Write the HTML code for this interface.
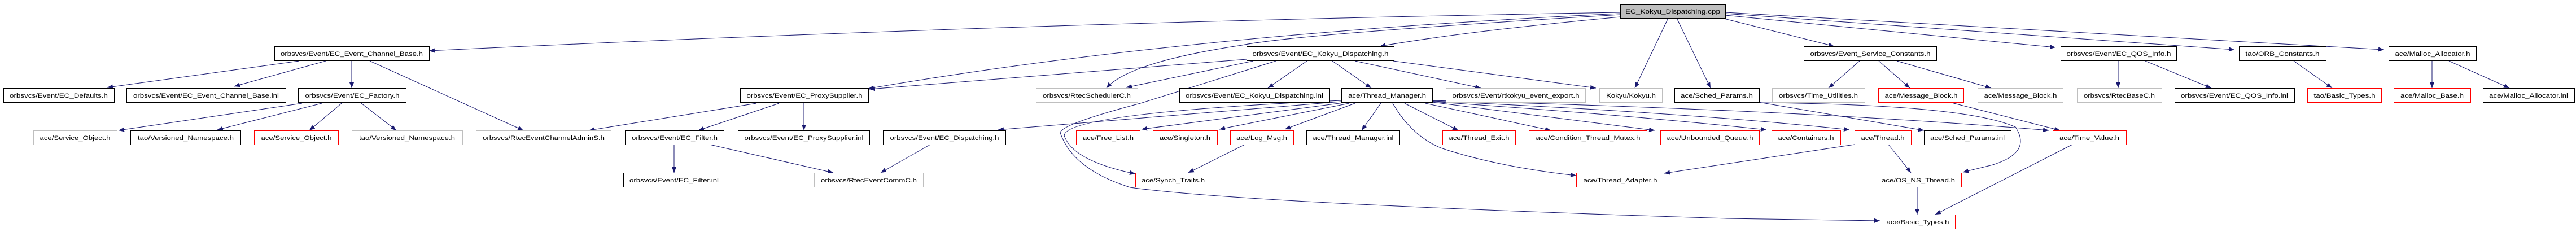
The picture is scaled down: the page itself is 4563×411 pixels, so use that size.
<!DOCTYPE html>
<html><head><meta charset="utf-8"><style>
html,body{margin:0;padding:0;background:#fff;}
svg{display:block;}
text{font-family:"Liberation Sans",sans-serif;font-size:11px;fill:#000;}
.e{fill:none;stroke:#191970;stroke-width:1;}
.b{fill:#fff;stroke:#000;stroke-width:1;}
.r{fill:#fff;stroke:#ff0000;stroke-width:1;}
.g{fill:#fff;stroke:#bfbfbf;stroke-width:1;}
</style></head><body>
<svg width="4563" height="411" viewBox="0 0 4563 411" xmlns="http://www.w3.org/2000/svg">
<defs><marker id="a" markerUnits="userSpaceOnUse" markerWidth="11" markerHeight="8" refX="10" refY="4" orient="auto"><path d="M0,0 L10,4 L0,8 z" fill="#191970"/></marker></defs>
<g marker-end="url(#a)">
<!-- root edges -->
<path class="e" d="M2870,30 Q2600,55 2444,82"/>
<path class="e" d="M2870,22 Q1800,40 760,90"/>
<path class="e" d="M2870,24 Q2100,60 1538,157"/>
<path class="e" d="M2870,26 Q2300,60 2200,80 Q2000,110 1960,156"/>
<path class="e" d="M2955,32 L2896,156"/>
<path class="e" d="M2970,32 L3030,156"/>
<path class="e" d="M3050,32 L3249,82"/>
<path class="e" d="M3056,27 L3641,84"/>
<path class="e" d="M3056,24 L3958,88"/>
<path class="e" d="M3056,22 L4223,88"/>
<!-- KD.h -->
<path class="e" d="M2208,105 L1540,158"/>
<path class="e" d="M2220,108 L1995,155"/>
<path class="e" d="M2315,108 L2246,156"/>
<path class="e" d="M2360,108 L2429,156"/>
<path class="e" d="M2400,108 L2623,156"/>
<path class="e" d="M2468,108 L2827,156"/>
<path class="e" d="M2260,108 Q2060,170 2020,183 Q1880,220 1878,235 Q1900,300 2002,332 Q2200,360 3059,387 L3330,391"/>
<!-- EC_Event_Channel_Base.h -->
<path class="e" d="M530,108 L190,155"/>
<path class="e" d="M577,108 L415,153"/>
<path class="e" d="M623,108 L623,156"/>
<path class="e" d="M655,108 L927,231"/>
<!-- Factory -->
<path class="e" d="M535,183 L210,231"/>
<path class="e" d="M570,183 L385,230"/>
<path class="e" d="M605,183 L548,231"/>
<path class="e" d="M640,183 L702,231"/>
<!-- ProxySupplier -->
<path class="e" d="M1340,183 L1043,231"/>
<path class="e" d="M1380,183 L1237,231"/>
<path class="e" d="M1424,183 L1424,231"/>
<!-- EC_Filter -->
<path class="e" d="M1194,256 L1194,306"/>
<path class="e" d="M1257,256 L1476,306"/>
<!-- Dispatching -->
<path class="e" d="M1648,256 L1560,306"/>
<!-- Thread_Manager -->
<path class="e" d="M2376,180 L1768,230"/>
<path class="e" d="M2380,182 L2022,229"/>
<path class="e" d="M2390,183 L2160,229"/>
<path class="e" d="M2400,183 L2276,229"/>
<path class="e" d="M2446,183 L2412,231"/>
<path class="e" d="M2488,183 L2583,231"/>
<path class="e" d="M2525,183 L2747,231"/>
<path class="e" d="M2537,181 L2931,231"/>
<path class="e" d="M2537,180 Q2900,205 3129,230"/>
<path class="e" d="M2537,179 Q3000,200 3276,230"/>
<path class="e" d="M2537,178 Q3200,195 3629,231"/>
<path class="e" d="M2376,178 Q1890,200 1885,240 Q1900,285 2011,308"/>
<path class="e" d="M2467,183 Q2500,240 2552,262 Q2650,295 2792,311"/>
<path class="e" d="M2205,256 L2105,306"/>
<path class="e" d="M3285,256 L2948,307"/>
<path class="e" d="M3345,256 L3385,306"/>
<!-- Sched params -->
<path class="e" d="M3115,181 L3408,231"/>
<path class="e" d="M3117,182 Q3480,185 3570,225 Q3600,270 3530,292 L3477,305"/>
<!-- ESC -->
<path class="e" d="M3294,108 L3239,156"/>
<path class="e" d="M3328,108 L3383,156"/>
<path class="e" d="M3360,108 L3527,156"/>
<path class="e" d="M3457,182 L3649,231"/>
<!-- QOS -->
<path class="e" d="M3752,108 L3752,156"/>
<path class="e" d="M3800,108 L3917,156"/>
<path class="e" d="M4063,108 L4131,156"/>
<path class="e" d="M4308,108 L4308,156"/>
<path class="e" d="M4338,108 L4445,156"/>
<path class="e" d="M3396,331 L3396,380"/>
<path class="e" d="M3671,256 L3428,380"/>
</g>
<g>
<rect x="2870.5" y="7.5" width="186" height="25" fill="#bfbfbf" stroke="#000"/><text x="2963" y="24" text-anchor="middle" textLength="168" lengthAdjust="spacingAndGlyphs">EC_Kokyu_Dispatching.cpp</text>
</g>
<g id="n"></g>
<!-- row1 -->
<rect class="b" x="486.5" y="82.5" width="274" height="25"/><text x="623" y="99" text-anchor="middle" textLength="252" lengthAdjust="spacingAndGlyphs">orbsvcs/Event/EC_Event_Channel_Base.h</text>
<rect class="b" x="2208.5" y="82.5" width="261" height="25"/><text x="2339" y="99" text-anchor="middle" textLength="241" lengthAdjust="spacingAndGlyphs">orbsvcs/Event/EC_Kokyu_Dispatching.h</text>
<rect class="b" x="3195.5" y="82.5" width="235" height="25"/><text x="3313" y="99" text-anchor="middle" textLength="213" lengthAdjust="spacingAndGlyphs">orbsvcs/Event_Service_Constants.h</text>
<rect class="b" x="3650.5" y="82.5" width="205" height="25"/><text x="3753" y="99" text-anchor="middle" textLength="185" lengthAdjust="spacingAndGlyphs">orbsvcs/Event/EC_QOS_Info.h</text>
<rect class="b" x="3966.5" y="82.5" width="154" height="25"/><text x="4043" y="99" text-anchor="middle" textLength="131" lengthAdjust="spacingAndGlyphs">tao/ORB_Constants.h</text>
<rect class="b" x="4231.5" y="82.5" width="155" height="25"/><text x="4309" y="99" text-anchor="middle" textLength="133" lengthAdjust="spacingAndGlyphs">ace/Malloc_Allocator.h</text>
<!-- row2 -->
<rect class="b" x="6.5" y="156.5" width="196" height="25"/><text x="104" y="173" text-anchor="middle" textLength="174" lengthAdjust="spacingAndGlyphs">orbsvcs/Event/EC_Defaults.h</text>
<rect class="b" x="224.5" y="156.5" width="282" height="25"/><text x="365" y="173" text-anchor="middle" textLength="258" lengthAdjust="spacingAndGlyphs">orbsvcs/Event/EC_Event_Channel_Base.inl</text>
<rect class="b" x="528.5" y="156.5" width="191" height="25"/><text x="624" y="173" text-anchor="middle" textLength="167" lengthAdjust="spacingAndGlyphs">orbsvcs/Event/EC_Factory.h</text>
<rect class="b" x="1311.5" y="156.5" width="227" height="25"/><text x="1425" y="173" text-anchor="middle" textLength="205" lengthAdjust="spacingAndGlyphs">orbsvcs/Event/EC_ProxySupplier.h</text>
<rect class="g" x="1835.5" y="156.5" width="180" height="25"/><text x="1925" y="173" text-anchor="middle" textLength="156" lengthAdjust="spacingAndGlyphs">orbsvcs/RtecSchedulerC.h</text>
<rect class="b" x="2089.5" y="156.5" width="266" height="25"/><text x="2222" y="173" text-anchor="middle" textLength="244" lengthAdjust="spacingAndGlyphs">orbsvcs/Event/EC_Kokyu_Dispatching.inl</text>
<rect class="b" x="2376.5" y="156.5" width="161" height="25"/><text x="2457" y="173" text-anchor="middle" textLength="138" lengthAdjust="spacingAndGlyphs">ace/Thread_Manager.h</text>
<rect class="g" x="2561.5" y="156.5" width="247" height="25"/><text x="2685" y="173" text-anchor="middle" textLength="225" lengthAdjust="spacingAndGlyphs">orbsvcs/Event/rtkokyu_event_export.h</text>
<rect class="g" x="2833.5" y="156.5" width="111" height="25"/><text x="2889" y="173" text-anchor="middle" textLength="88" lengthAdjust="spacingAndGlyphs">Kokyu/Kokyu.h</text>
<rect class="b" x="2966.5" y="156.5" width="150" height="25"/><text x="3041" y="173" text-anchor="middle" textLength="128" lengthAdjust="spacingAndGlyphs">ace/Sched_Params.h</text>
<rect class="g" x="3139.5" y="156.5" width="164" height="25"/><text x="3221" y="173" text-anchor="middle" textLength="140" lengthAdjust="spacingAndGlyphs">orbsvcs/Time_Utilities.h</text>
<rect class="r" x="3327.5" y="156.5" width="151" height="25"/><text x="3403" y="173" text-anchor="middle" textLength="129" lengthAdjust="spacingAndGlyphs">ace/Message_Block.h</text>
<rect class="g" x="3503.5" y="156.5" width="151" height="25"/><text x="3579" y="173" text-anchor="middle" textLength="129" lengthAdjust="spacingAndGlyphs">ace/Message_Block.h</text>
<rect class="g" x="3679.5" y="156.5" width="150" height="25"/><text x="3754" y="173" text-anchor="middle" textLength="126" lengthAdjust="spacingAndGlyphs">orbsvcs/RtecBaseC.h</text>
<rect class="b" x="3852.5" y="156.5" width="212" height="25"/><text x="3958" y="173" text-anchor="middle" textLength="190" lengthAdjust="spacingAndGlyphs">orbsvcs/Event/EC_QOS_Info.inl</text>
<rect class="r" x="4087.5" y="156.5" width="131" height="25"/><text x="4153" y="173" text-anchor="middle" textLength="109" lengthAdjust="spacingAndGlyphs">tao/Basic_Types.h</text>
<rect class="r" x="4240.5" y="156.5" width="136" height="25"/><text x="4308" y="173" text-anchor="middle" textLength="112" lengthAdjust="spacingAndGlyphs">ace/Malloc_Base.h</text>
<rect class="b" x="4398.5" y="156.5" width="162" height="25"/><text x="4479" y="173" text-anchor="middle" textLength="140" lengthAdjust="spacingAndGlyphs">ace/Malloc_Allocator.inl</text>
<!-- row3 -->
<rect class="g" x="59.5" y="231.5" width="148" height="25"/><text x="133" y="248" text-anchor="middle" textLength="125" lengthAdjust="spacingAndGlyphs">ace/Service_Object.h</text>
<rect class="b" x="231.5" y="231.5" width="195" height="25"/><text x="329" y="248" text-anchor="middle" textLength="170" lengthAdjust="spacingAndGlyphs">tao/Versioned_Namespace.h</text>
<rect class="r" x="450.5" y="231.5" width="149" height="25"/><text x="525" y="248" text-anchor="middle" textLength="125" lengthAdjust="spacingAndGlyphs">ace/Service_Object.h</text>
<rect class="g" x="623.5" y="231.5" width="196" height="25"/><text x="721" y="248" text-anchor="middle" textLength="170" lengthAdjust="spacingAndGlyphs">tao/Versioned_Namespace.h</text>
<rect class="g" x="843.5" y="231.5" width="239" height="25"/><text x="963" y="248" text-anchor="middle" textLength="216" lengthAdjust="spacingAndGlyphs">orbsvcs/RtecEventChannelAdminS.h</text>
<rect class="b" x="1107.5" y="231.5" width="175" height="25"/><text x="1195" y="248" text-anchor="middle" textLength="152" lengthAdjust="spacingAndGlyphs">orbsvcs/Event/EC_Filter.h</text>
<rect class="b" x="1307.5" y="231.5" width="233" height="25"/><text x="1424" y="248" text-anchor="middle" textLength="211" lengthAdjust="spacingAndGlyphs">orbsvcs/Event/EC_ProxySupplier.inl</text>
<rect class="b" x="1564.5" y="231.5" width="217" height="25"/><text x="1673" y="248" text-anchor="middle" textLength="193" lengthAdjust="spacingAndGlyphs">orbsvcs/Event/EC_Dispatching.h</text>
<rect class="r" x="1906.5" y="231.5" width="113" height="25"/><text x="1963" y="248" text-anchor="middle" textLength="90" lengthAdjust="spacingAndGlyphs">ace/Free_List.h</text>
<rect class="r" x="2042.5" y="231.5" width="114" height="25"/><text x="2099" y="248" text-anchor="middle" textLength="90" lengthAdjust="spacingAndGlyphs">ace/Singleton.h</text>
<rect class="r" x="2179.5" y="231.5" width="112" height="25"/><text x="2235" y="248" text-anchor="middle" textLength="90" lengthAdjust="spacingAndGlyphs">ace/Log_Msg.h</text>
<rect class="b" x="2314.5" y="231.5" width="165" height="25"/><text x="2397" y="248" text-anchor="middle" textLength="143" lengthAdjust="spacingAndGlyphs">ace/Thread_Manager.inl</text>
<rect class="r" x="2555.5" y="231.5" width="129" height="25"/><text x="2620" y="248" text-anchor="middle" textLength="107" lengthAdjust="spacingAndGlyphs">ace/Thread_Exit.h</text>
<rect class="r" x="2708.5" y="231.5" width="209" height="25"/><text x="2813" y="248" text-anchor="middle" textLength="185" lengthAdjust="spacingAndGlyphs">ace/Condition_Thread_Mutex.h</text>
<rect class="r" x="2941.5" y="231.5" width="175" height="25"/><text x="3029" y="248" text-anchor="middle" textLength="153" lengthAdjust="spacingAndGlyphs">ace/Unbounded_Queue.h</text>
<rect class="r" x="3138.5" y="231.5" width="122" height="25"/><text x="3199" y="248" text-anchor="middle" textLength="99" lengthAdjust="spacingAndGlyphs">ace/Containers.h</text>
<rect class="r" x="3285.5" y="231.5" width="100" height="25"/><text x="3335" y="248" text-anchor="middle" textLength="77" lengthAdjust="spacingAndGlyphs">ace/Thread.h</text>
<rect class="b" x="3408.5" y="231.5" width="154" height="25"/><text x="3485" y="248" text-anchor="middle" textLength="132" lengthAdjust="spacingAndGlyphs">ace/Sched_Params.inl</text>
<rect class="r" x="3636.5" y="231.5" width="130" height="25"/><text x="3701" y="248" text-anchor="middle" textLength="106" lengthAdjust="spacingAndGlyphs">ace/Time_Value.h</text>
<!-- row4 -->
<rect class="b" x="1104.5" y="306.5" width="180" height="25"/><text x="1194" y="323" text-anchor="middle" textLength="158" lengthAdjust="spacingAndGlyphs">orbsvcs/Event/EC_Filter.inl</text>
<rect class="g" x="1442.5" y="306.5" width="193" height="25"/><text x="1539" y="323" text-anchor="middle" textLength="170" lengthAdjust="spacingAndGlyphs">orbsvcs/RtecEventCommC.h</text>
<rect class="r" x="2011.5" y="306.5" width="135" height="25"/><text x="2078" y="323" text-anchor="middle" textLength="112" lengthAdjust="spacingAndGlyphs">ace/Synch_Traits.h</text>
<rect class="r" x="2792.5" y="306.5" width="155" height="25"/><text x="2870" y="323" text-anchor="middle" textLength="131" lengthAdjust="spacingAndGlyphs">ace/Thread_Adapter.h</text>
<rect class="r" x="3321.5" y="306.5" width="153" height="25"/><text x="3398" y="323" text-anchor="middle" textLength="130" lengthAdjust="spacingAndGlyphs">ace/OS_NS_Thread.h</text>
<!-- row5 -->
<rect class="r" x="3330.5" y="380.5" width="133" height="25"/><text x="3397" y="397" text-anchor="middle" textLength="111" lengthAdjust="spacingAndGlyphs">ace/Basic_Types.h</text>
</svg>
</body></html>
